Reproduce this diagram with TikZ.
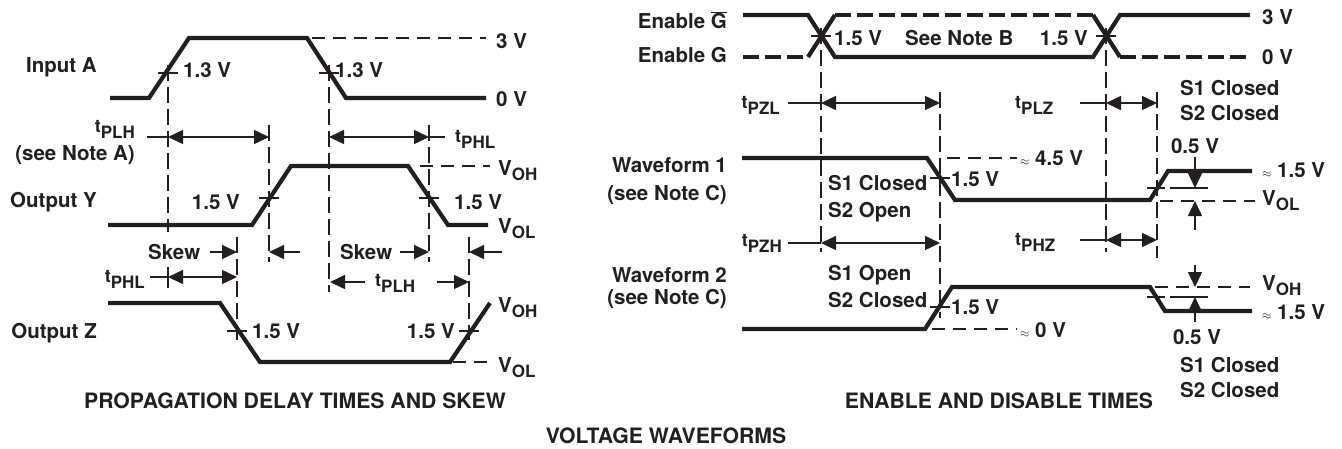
\documentclass[tikz,border=0pt]{standalone}
\usepackage{fontspec}
\setmainfont{TeX Gyre Heros}
\usetikzlibrary{arrows.meta}
\newcommand{\tlab}[1]{{\fontsize{18}{18}\selectfont t}\raisebox{-6pt}{\fontsize{17}{17}\selectfont #1}}
\newcommand{\vlab}[1]{V\raisebox{-5pt}{\fontsize{17}{17}\selectfont #1}}
\newcommand{\apx}{{\fontsize{13}{13}\selectfont$\approx$}}
\definecolor{ink}{HTML}{231F20}
\tikzset{
  wave/.style={line width=4.2pt, line join=miter, line cap=butt, draw=ink},
  wdash/.style={wave, dash pattern=on 16pt off 6pt},
  guide/.style={line width=1.5pt, draw=ink, dash pattern=on 16pt off 6pt},
  hguide/.style={line width=1.5pt, draw=ink, dash pattern=on 13pt off 8pt},
  thinln/.style={line width=1.5pt, draw=ink},
  dim/.style={thinln, arrows={Triangle[length=15pt,width=14pt]-Triangle[length=15pt,width=14pt]}},
  tip/.style={thinln, -{Triangle[length=15pt,width=14pt]}},
  lbl/.style={inner sep=0pt, text=ink, font=\fontsize{20.5}{24}\selectfont\bfseries},
  ttl/.style={inner sep=0pt, text=ink, font=\fontsize{21.2}{24}\selectfont\bfseries},
}
\begin{document}
\begin{tikzpicture}[x=1pt,y=-1pt]
\useasboundingbox (0,0) rectangle (1342,448);
% ================= LEFT PANEL =================
% Input A
\draw[wave] (110,98) -- (149,98) -- (189,38) -- (307,38) -- (346,98) -- (486,98);
\draw[hguide] (312,38) -- (486,38);
\draw[thinln] (158,73) -- (178,73);
\draw[thinln] (319,73) -- (339,73);
\node[lbl,anchor=east] (inA) at (97,67) {Input A};
\node[lbl,anchor=west] (v13a) at (183,70) {1.3 V};
\node[lbl,anchor=west] (v13b) at (335,70) {1.3 V};
\node[lbl,anchor=west] (v3a) at (496,41) {3 V};
\node[lbl,anchor=west] (v0a) at (496,99) {0 V};
% guides
\draw[guide] (168,65) -- (168,232);
\draw[thinln] (168,267) -- (168,288);
\draw[guide] (269,125) -- (269,262);
\draw[guide] (237,237) -- (237,340);
\draw[guide] (329,65) -- (329,292);
\draw[guide] (429,125) -- (429,262);
\draw[guide] (469,237) -- (469,340);
% tPLH / tPHL (top)
\node[lbl,anchor=base east] (tplh1) at (135,132) {\tlab{PLH}};
\node[lbl,anchor=east] (noteA) at (135,155) {(see Note A)};
\draw[thinln] (147,137) -- (168,137);
\draw[dim] (168,137) -- (269,137);
\draw[dim] (329,137) -- (429,137);
\draw[thinln] (429,137) -- (445,137);
\node[lbl,anchor=base west] (tphl1) at (455,142) {\tlab{PHL}};
% Output Y
\draw[wave] (108,225) -- (252,225) -- (291,166) -- (408,166) -- (448,225) -- (488,225);
\draw[hguide] (420,166) -- (490,166);
\draw[thinln] (259,198) -- (279,198);
\draw[thinln] (419,198) -- (439,198);
\node[lbl,anchor=east] (outY) at (97,202) {Output Y};
\node[lbl,anchor=east] (v15a) at (240,202) {1.5 V};
\node[lbl,anchor=west] (v15b) at (454,202) {1.5 V};
\node[lbl,anchor=base west] (vohY) at (498,175) {\vlab{OH}};
\node[lbl,anchor=base west] (volY) at (498,233) {\vlab{OL}};
% Skew
\node[lbl,anchor=west] (skew1) at (148,252) {Skew};
\draw[tip] (210,252) -- (237,252);
\draw[tip] (300,252) -- (269,252);
\node[lbl,anchor=west] (skew2) at (340,252) {Skew};
\draw[tip] (400,252) -- (429,252);
\draw[tip] (502,252) -- (469,252);
% tPHL / tPLH (bottom)
\node[lbl,anchor=base east] (tphl2) at (145,282) {\tlab{PHL}};
\draw[thinln] (150,277) -- (168,277);
\draw[dim] (168,277) -- (237,277);
\draw[tip] (365,282) -- (330,282);
\node[lbl,anchor=base west] (tplh2) at (375,286) {\tlab{PLH}};
\draw[tip] (437,282) -- (469,282);
% Output Z
\draw[wave] (108,303) -- (220,303) -- (260,362) -- (450,362) -- (490,303);
\draw[hguide] (453,362) -- (488,362);
\draw[thinln] (227,331) -- (247,331);
\draw[thinln] (459,331) -- (479,331);
\node[lbl,anchor=east] (outZ) at (97,333) {Output Z};
\node[lbl,anchor=west] (v15c) at (252,331) {1.5 V};
\node[lbl,anchor=east] (v15d) at (455,331) {1.5 V};
\node[lbl,anchor=base west] (vohZ) at (498,312) {\vlab{OH}};
\node[lbl,anchor=base west] (volZ) at (498,372) {\vlab{OL}};
\node[ttl] (titleL) at (295,401) {PROPAGATION DELAY TIMES AND SKEW};
% ================= RIGHT PANEL =================
% Enable lines
\draw[wave] (743,15) -- (808,15) -- (835,57) -- (1093,57) -- (1120,15) -- (1250,15);
\draw[wdash] (743,57) -- (808,57);
\draw[wave] (808,57) -- (835,15);
\draw[wdash] (835,15) -- (1093,15);
\draw[wave] (1093,15) -- (1120,57);
\draw[wdash] (1120,57) -- (1250,57);
\draw[thinln] (811,36) -- (831,36);
\draw[thinln] (1096,36) -- (1116,36);
\node[lbl,anchor=east] (enGb) at (727,20) {Enable $\overline{\hbox{G}}$};
\node[lbl,anchor=east] (enG) at (727,55) {Enable G};
\node[lbl,anchor=west] (v15e) at (834,38) {1.5 V};
\node[lbl,anchor=west] (noteB) at (905,38) {See Note B};
\node[lbl,anchor=east] (v15f) at (1088,38) {1.5 V};
\node[lbl,anchor=west] (v3b) at (1262,17) {3 V};
\node[lbl,anchor=west] (v0b) at (1262,57) {0 V};
% guides
\draw[guide] (821,28) -- (821,252);
\draw[guide] (1106,28) -- (1106,252);
\draw[guide] (940,92) -- (940,318);
\draw[guide] (1157,92) -- (1157,258);
% tPZL / tPLZ
\node[lbl,anchor=base east] (tpzl) at (780,108) {\tlab{PZL}};
\draw[thinln] (788,103) -- (821,103);
\draw[dim] (821,103) -- (940,103);
\node[lbl,anchor=base west] (tplz) at (1015,108) {\tlab{PLZ}};
\draw[thinln] (1080,103) -- (1106,103);
\draw[dim] (1106,103) -- (1157,103);
\node[lbl,anchor=west] (s1a) at (1180,88) {S1 Closed};
\node[lbl,anchor=west] (s2a) at (1180,113) {S2 Closed};
% Waveform 1
\draw[wave] (742,158) -- (927,158) -- (955,200) -- (1150,200) -- (1168,171) -- (1252,171);
\draw[hguide] (947,158) -- (1017,158);
\draw[thinln] (930,178) -- (950,178);
\node[lbl,anchor=east] (wf1) at (727,165) {Waveform 1};
\node[lbl,anchor=east] (noteC1) at (727,195) {(see Note C)};
\node[lbl,anchor=west] (v45) at (1020,158) {\apx\ 4.5 V};
\node[lbl,anchor=west] (v15g) at (951,179) {1.5 V};
\node[lbl,anchor=west] (s1b) at (828,183) {S1 Closed};
\node[lbl,anchor=west] (s2b) at (828,212) {S2 Open};
\draw[thinln] (1147,188) -- (1165,188);
\draw[thinln] (1170,188) -- (1208,188);
\draw[hguide] (1160,201) -- (1255,201);
\node[lbl] (v05a) at (1195,146) {0.5 V};
\draw[tip] (1195,157) -- (1195,188);
\draw[tip] (1195,230) -- (1195,201);
\node[lbl,anchor=west] (v15h) at (1262,170) {\apx\ 1.5 V};
\node[lbl,anchor=base west] (volR) at (1262,205) {\vlab{OL}};
% tPZH / tPHZ
\node[lbl,anchor=base east] (tpzh) at (782,246) {\tlab{PZH}};
\draw[thinln] (788,243) -- (821,243);
\draw[dim] (821,243) -- (940,243);
\node[lbl,anchor=base west] (tphz) at (1015,245) {\tlab{PHZ}};
\draw[thinln] (1080,240) -- (1106,240);
\draw[dim] (1106,240) -- (1157,240);
% Waveform 2
\draw[wave] (742,329) -- (925,329) -- (952,287) -- (1150,287) -- (1165,311) -- (1252,311);
\draw[hguide] (932,329) -- (1017,329);
\draw[thinln] (930,307) -- (950,307);
\node[lbl,anchor=east] (wf2) at (727,275) {Waveform 2};
\node[lbl,anchor=east] (noteC2) at (727,299) {(see Note C)};
\node[lbl,anchor=west] (s1c) at (828,275) {S1 Open};
\node[lbl,anchor=west] (s2c) at (828,300) {S2 Closed};
\node[lbl,anchor=west] (v15i) at (951,307) {1.5 V};
\node[lbl,anchor=west] (v0c) at (1020,330) {\apx\ 0 V};
\draw[hguide] (1155,287) -- (1250,287);
\draw[thinln] (1147,297) -- (1165,297);
\draw[thinln] (1170,297) -- (1208,297);
\draw[tip] (1195,265) -- (1195,287);
\draw[tip] (1195,322) -- (1195,297);
\node[lbl,anchor=base west] (vohR) at (1262,290) {\vlab{OH}};
\node[lbl,anchor=west] (v15j) at (1262,312) {\apx\ 1.5 V};
\node[lbl] (v05b) at (1197,337) {0.5 V};
\node[lbl,anchor=west] (s1d) at (1180,365) {S1 Closed};
\node[lbl,anchor=west] (s2d) at (1180,390) {S2 Closed};
\node[ttl] (titleR) at (999,401) {ENABLE AND DISABLE TIMES};
\node[ttl] (titleM) at (666,435.5) {VOLTAGE WAVEFORMS};
\end{tikzpicture}
\end{document}
